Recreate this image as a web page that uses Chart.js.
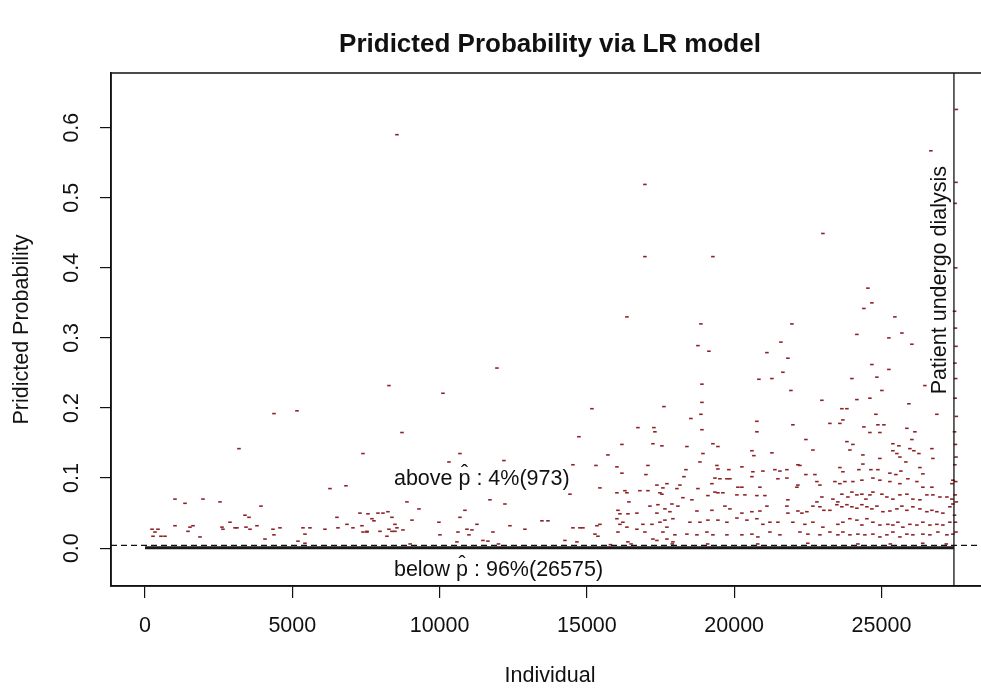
<!DOCTYPE html>
<html><head><meta charset="utf-8">
<script src="https://cdn.jsdelivr.net/npm/chart.js@4"></script>
<style>html,body{margin:0;padding:0;overflow:hidden;background:#fff}#wrap{width:1000px;height:690px}</style>
</head><body><div id="wrap"><canvas id="c" width="1000" height="690"></canvas></div>
<script>
// ---- axis setup ----
const xTicks = [0, 5000, 10000, 15000, 20000, 25000];
const yTicks = [0, 0.1, 0.2, 0.3, 0.4, 0.5, 0.6];
const xRange = [-1154, 28650];
const yRange = [-0.054, 0.678];
const pHat = 0.004;            // dashed threshold line
const dialysisStart = 27460;   // vertical line
const firstIndividual = 1;
const belowBandY = 0.0005;     // the 26575 individuals below threshold (dense band at ~0)
const aboveCount = 973, belowCount = 26575, abovePct = 4, belowPct = 96;

// ---- individuals above threshold ----
const leftX = [8281,4378,5159,3190,7399,6279,6822,1018,1358,1969,
 2546,3937,3394,3530,6516,7297,7569,7908,8078,7704,
 7772,8383,2885,6856,238,441,1018,1527,1629,2613,
 2647,3055,3122,3428,3564,3801,4344,4582,5363,5600,
 6109,6550,7060,7365,7535,7976,8281,8485,339,1459,
 272,543,679,1867,4378,5430,4073,5193,5430,8213,
 7399,7535,8553];
const leftY = [0.232,0.192,0.196,0.142,0.135,0.085,0.089,0.070,0.064,0.070,
 0.066,0.060,0.047,0.044,0.044,0.050,0.049,0.050,0.050,0.042,
 0.039,0.044,0.037,0.034,0.027,0.027,0.032,0.030,0.032,0.030,
 0.027,0.029,0.029,0.030,0.027,0.032,0.027,0.029,0.029,0.029,
 0.027,0.029,0.029,0.032,0.024,0.024,0.027,0.024,0.023,0.024,
 0.017,0.017,0.017,0.016,0.019,0.020,0.013,0.010,0.007,0.017,
 0.023,0.023,0.590];

const topX = [16970,16970,16359,26677,23011,19278,24539,24403,24674,25455];
const topY = [0.519,0.416,0.330,0.567,0.449,0.416,0.371,0.342,0.350,0.330];

const midX = [11947,10114,15171,17615,8723,14730,16732,17275,17309,17242,
 17547,16189,10691,10318,12184,14526,15714,15307,16020,17072,
 17004,16189,15443,16020,16291,16359,16800,17072,17377,17479,
 17717,17581,18056,14425,8892,11709,12218,9300,10861,16427,
 17140,17411,17649,17819,16054,16122,16393,16698,8247,17377,
 9062,9978,10691,11268,13474,13678,14526,14764,14866,15341,
 15443,16020,16122,16223,16359,16698,16902,17208,16970,17479,
 17717,8553,8757,8383,8485,10012,10929,11098,11811,12388,
 12897,10997,11472,11641,14255,15273,15375,16054,17242,17377,
 16393,17717,17920,10623,14662,10589];
const midY = [0.257,0.221,0.199,0.202,0.165,0.159,0.172,0.172,0.166,0.149,
 0.146,0.148,0.135,0.123,0.125,0.119,0.133,0.118,0.116,0.118,
 0.105,0.107,0.086,0.079,0.082,0.079,0.082,0.082,0.090,0.079,
 0.092,0.086,0.085,0.077,0.066,0.069,0.063,0.056,0.054,0.066,
 0.060,0.062,0.056,0.052,0.054,0.049,0.049,0.050,0.052,0.050,
 0.040,0.037,0.044,0.034,0.039,0.039,0.029,0.029,0.029,0.032,
 0.034,0.042,0.034,0.037,0.030,0.027,0.034,0.034,0.023,0.037,
 0.030,0.029,0.026,0.024,0.034,0.019,0.027,0.026,0.023,0.032,
 0.027,0.019,0.011,0.010,0.011,0.020,0.017,0.023,0.013,0.011,
 0.009,0.013,0.009,0.023,0.009,0.009];

const rightX = [18871,21959,25693,25251,24165,18769,19142,21111,21586,21823,
 26032,24674,25251,21654,20839,21280,23996,24844,18905,21925,
 25014,22977,24165,24607,25930,18905,26473,23656,23826,18871,
 24810,26880,18531,23690,20771,20771,23249,23588,21993,24403,
 24878,25082,18905,24607,24946,25862,26134,18395,19278,19448,
 22434,22672,23826,24030,23928,24369,25387,25591,25387,25523,
 26032,25964,26100,26270,26711,20602,20669,21280,18939,18837,
 24369,24946,25625,25828,26745,19448,19414,19821,20262,20636,
 20975,21382,21552,21789,22163,22231,22434,22740,23588,23690,
 24233,24641,24878,25285,25489,25659,26304,26405,18294,18362,
 19346,19516,19753,19855,20602,21484,21789,22163,22808,22910,
 23419,23588,23758,24030,24335,24709,24946,25285,25625,25896,
 26202,26405,26711,27390,27424,18158,18769,19244,20126,20262,
 20873,22129,17547,18260,18565,19108,19346,19448,19617,20092,
 20364,20771,21043,21823,22977,22808,23351,23520,23656,23860,
 23996,24165,24335,24471,24607,24709,25014,25183,25387,25625,
 25862,26066,26304,26541,26745,26983,27220,27390,17887,18090,
 18735,19244,19685,19855,20262,20602,20873,21111,21789,21823,
 22163,22299,22468,22672,22910,23045,23249,23486,23656,23826,
 23996,24165,24335,24505,24674,24844,25048,25285,25523,25693,
 25862,26066,26304,26541,26711,26880,27084,27322,27424,17649,
 17920,18497,18837,19108,19448,19753,20092,20432,20771,20975,
 21213,21484,21993,22400,22672,23011,23520,23690,23928,24165,
 24335,24505,24709,24946,25217,25387,25557,25727,25964,26202,
 26405,26643,26880,27084,27322,17581,17988,18395,18735,19074,
 19278,19753,20262,20602,20805,21213,21552,22231,22502,22910,
 23249,23520,23690,23928,24199,24437,24709,24946,25183,25387,
 25625,25862,26066,26405,26643,26914,27220,27424];
const rightY = [0.320,0.320,0.307,0.300,0.305,0.289,0.281,0.279,0.294,0.271,
 0.291,0.262,0.255,0.251,0.241,0.242,0.242,0.244,0.234,0.225,
 0.225,0.211,0.212,0.214,0.206,0.208,0.232,0.199,0.199,0.191,
 0.191,0.191,0.185,0.183,0.181,0.166,0.178,0.178,0.176,0.173,
 0.176,0.176,0.169,0.165,0.165,0.171,0.166,0.145,0.149,0.145,
 0.155,0.140,0.152,0.148,0.140,0.133,0.149,0.146,0.139,0.135,
 0.155,0.142,0.139,0.135,0.142,0.139,0.132,0.136,0.135,0.123,
 0.120,0.128,0.130,0.123,0.128,0.113,0.118,0.112,0.116,0.109,
 0.110,0.112,0.110,0.112,0.119,0.118,0.105,0.105,0.115,0.109,
 0.112,0.112,0.112,0.107,0.105,0.110,0.115,0.106,0.102,0.112,
 0.100,0.099,0.099,0.099,0.102,0.099,0.100,0.090,0.095,0.090,
 0.095,0.092,0.095,0.095,0.097,0.100,0.097,0.095,0.092,0.099,
 0.095,0.087,0.087,0.092,0.097,0.090,0.085,0.092,0.087,0.087,
 0.087,0.087,0.077,0.072,0.069,0.075,0.080,0.079,0.079,0.076,
 0.076,0.075,0.075,0.069,0.073,0.066,0.070,0.066,0.077,0.073,
 0.080,0.076,0.077,0.070,0.076,0.080,0.077,0.073,0.070,0.076,
 0.077,0.070,0.069,0.076,0.076,0.073,0.073,0.070,0.063,0.060,
 0.053,0.054,0.060,0.056,0.050,0.052,0.053,0.060,0.060,0.050,
 0.053,0.050,0.052,0.060,0.059,0.054,0.054,0.062,0.059,0.062,
 0.059,0.057,0.062,0.059,0.056,0.060,0.052,0.053,0.056,0.060,
 0.054,0.059,0.056,0.052,0.054,0.052,0.050,0.059,0.063,0.040,
 0.042,0.037,0.037,0.040,0.040,0.037,0.043,0.040,0.042,0.034,
 0.037,0.037,0.037,0.034,0.037,0.030,0.034,0.037,0.042,0.040,
 0.033,0.042,0.037,0.033,0.034,0.033,0.037,0.030,0.034,0.033,
 0.037,0.033,0.034,0.033,0.037,0.023,0.019,0.020,0.019,0.023,
 0.019,0.019,0.019,0.020,0.016,0.023,0.019,0.023,0.020,0.019,
 0.023,0.019,0.023,0.019,0.020,0.019,0.020,0.016,0.019,0.023,
 0.016,0.020,0.019,0.020,0.019,0.023,0.019,0.020];

const edgeX = [27540,27530,27500,27520,27480,27510,27530,27490,27520,27500,27540,27480,27510,27530,27490,27520,27500,27540,27480,27510,27530];
const edgeY = [0.626,0.522,0.492,0.400,0.338,0.314,0.288,0.264,0.242,0.214,0.188,0.166,0.148,0.130,0.119,0.095,0.076,0.066,0.047,0.037,0.023];

const nearZeroX = [9000,12000,15800,16500,17900,19100,20800,22500,24200,25300,26400,27200];
const nearZeroY = [0.006,0.006,0.005,0.006,0.006,0.006,0.006,0.007,0.006,0.006,0.007,0.006];

// ---- annotation anchors (data units) ----
const labelX = 8450, aboveLabelY = 0.099, belowLabelY = -0.031;
const dialysisLabelX = 27000, dialysisLabelY = 0.3825;

// ---- styling ----
const FONT = '"Liberation Sans", Arial, Helvetica, sans-serif';
const ink = '#111';
const pointColor = '#8e2327';
const baseSize = 21.5;

const pts = (xs, ys) => xs.map((x, i) => ({x: x, y: ys[i]}));
const aboveData = [].concat(pts(leftX, leftY), pts(topX, topY), pts(midX, midY),
  pts(rightX, rightY), pts(edgeX, edgeY), pts(nearZeroX, nearZeroY));

function hatLabel(ctx, px, py, pre, post) {
  ctx.textAlign = 'left';
  ctx.fillText(pre, px, py);
  const w1 = ctx.measureText(pre).width;
  ctx.fillText('p', px + w1, py);
  const wp = ctx.measureText('p').width;
  ctx.textAlign = 'center';
  ctx.fillText('\u02C6', px + w1 + wp / 2, py - 5);
  ctx.textAlign = 'left';
  ctx.fillText(post, px + w1 + wp, py);
}

const rStyle = {
  id: 'rStyle',
  afterDraw(chart) {
    const {ctx, chartArea: a, scales: {x, y}} = chart;
    ctx.save();
    ctx.strokeStyle = ink; ctx.lineWidth = 1.5;
    ctx.strokeRect(a.left, a.top, a.right - a.left, a.bottom - a.top);
    ctx.fillStyle = ink;
    ctx.font = baseSize + 'px ' + FONT;
    ctx.textBaseline = 'middle';
    hatLabel(ctx, x.getPixelForValue(labelX), y.getPixelForValue(aboveLabelY), 'above ', ' : ' + abovePct + '%(' + aboveCount + ')');
    hatLabel(ctx, x.getPixelForValue(labelX), y.getPixelForValue(belowLabelY), 'below ', ' : ' + belowPct + '%(' + belowCount + ')');
    ctx.translate(x.getPixelForValue(dialysisLabelX), y.getPixelForValue(dialysisLabelY));
    ctx.rotate(-Math.PI / 2);
    ctx.textAlign = 'center';
    ctx.fillText('Patient undergo dialysis', 0, 0);
    ctx.restore();
  }
};

const axisFont = {family: FONT, size: baseSize};

new Chart(document.getElementById('c'), {
  type: 'scatter',
  data: {
    datasets: [
      {label: 'threshold', data: [{x: xRange[0], y: pHat}, {x: xRange[1], y: pHat}],
       showLine: true, borderColor: ink, borderWidth: 1.2, borderDash: [6, 4], pointRadius: 0, order: 0},
      {label: 'dialysis', data: [{x: dialysisStart, y: yRange[0]}, {x: dialysisStart, y: yRange[1]}],
       showLine: true, borderColor: ink, borderWidth: 1.3, pointRadius: 0, order: 1},
      {label: 'below', data: [{x: firstIndividual, y: belowBandY}, {x: dialysisStart, y: belowBandY}],
       showLine: true, borderColor: '#1a1a1a', borderWidth: 3, pointRadius: 0, order: 2},
      {label: 'above', data: aboveData, showLine: false, pointStyle: 'line', pointRadius: 1.8,
       borderWidth: 1.6, borderColor: pointColor, backgroundColor: pointColor, order: 3}
    ]
  },
  options: {
    responsive: false, animation: false, devicePixelRatio: 1, events: [],
    layout: {padding: {left: 0, right: 11, top: 0, bottom: 0}},
    plugins: {
      legend: {display: false}, tooltip: {enabled: false},
      title: {display: true, fullSize: false, text: 'Pridicted Probability via LR model', color: ink,
              font: {family: FONT, size: 26, weight: 'bold', lineHeight: 1.2}, padding: {top: 29, bottom: 12.8}}
    },
    scales: {
      x: {
        type: 'linear', min: xRange[0], max: xRange[1],
        afterBuildTicks: s => { s.ticks = xTicks.map(v => ({value: v})); },
        afterFit: s => { s.height = 104; },
        ticks: {font: axisFont, color: ink, padding: 15, maxRotation: 0, autoSkip: false, callback: v => String(v)},
        grid: {display: true, drawOnChartArea: false, drawTicks: true, tickLength: 12, color: ink, lineWidth: 1.2},
        border: {display: true, color: ink, width: 1.5},
        title: {display: true, text: 'Individual', color: ink, font: axisFont, padding: {top: 0, bottom: 1}}
      },
      y: {
        type: 'linear', min: yRange[0], max: yRange[1],
        afterBuildTicks: s => { s.ticks = yTicks.map(v => ({value: v})); },
        afterFit: s => { s.width = 111; },
        ticks: {font: axisFont, color: ink, padding: 12.5, minRotation: 90, maxRotation: 90, crossAlign: 'center',
                autoSkip: false, callback: v => Number(v).toFixed(1)},
        grid: {display: true, drawOnChartArea: false, drawTicks: true, tickLength: 11, color: ink, lineWidth: 1.2},
        border: {display: true, color: ink, width: 1.5},
        title: {display: true, text: 'Pridicted Probability', color: ink, font: axisFont, padding: {top: 9, bottom: 0}}
      }
    }
  },
  plugins: [rStyle]
});
</script>
</body></html>
